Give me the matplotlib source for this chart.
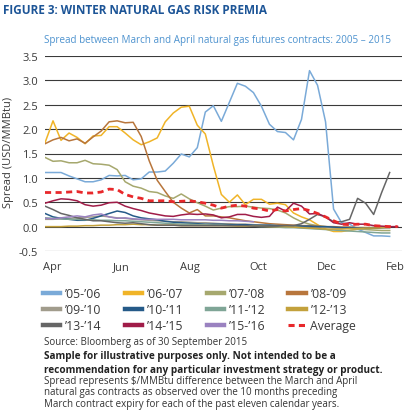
import numpy as np
import matplotlib
matplotlib.use("Agg")
import matplotlib.pyplot as plt
from matplotlib.lines import Line2D

plt.rcParams['font.family'] = ['Open Sans', 'DejaVu Sans']

# ---- data (weekly observations, starting early April) ----
labels = ["’05-’06", "’06-’07", "’07-’08", "’08-’09", "’09-’10", "’10-’11",
          "’11-’12", "’12-’13", "’13-’14", "’14-’15", "’15-’16"]
colors = ["#7aaad8", "#f0b428", "#a6a86e", "#b8763c", "#a19c8c", "#255a88",
          "#7fa596", "#c3a13c", "#666666", "#a01c48", "#9a82c0"]

s0506 = [1.11, 1.11, 1.11, 1.04, 0.98, 0.92, 0.92, 0.96, 1.05, 1.04, 1.05, 0.96, 0.98, 1.12, 1.12,
         1.14, 1.30, 1.49, 1.43, 1.62, 2.35, 2.48, 2.16, 2.55, 2.94, 2.88, 2.75, 2.47, 2.10, 1.95,
         1.93, 1.78, 2.20, 3.20, 2.90, 2.15, 0.36, 0.08, 0.05, -0.05, -0.12, -0.19, -0.19, -0.20]
s0607 = [1.72, 2.17, 1.77, 1.92, 1.83, 1.70, 1.86, 1.87, 2.05, 2.05, 1.92, 1.78, 1.68, 1.74, 1.82,
         2.15, 2.33, 2.45, 2.47, 2.08, 1.90, 1.25, 0.66, 0.50, 0.65, 0.45, 0.56, 0.56, 0.46, 0.48,
         0.45, 0.28, 0.20, 0.14, 0.04, -0.05, -0.10, -0.10, -0.08, -0.05, -0.05, -0.03, -0.02, 0.00]
s0708 = [1.42, 1.34, 1.35, 1.31, 1.31, 1.36, 1.29, 1.28, 1.26, 1.17, 0.92, 0.83, 0.79, 0.72, 0.70,
         0.63, 0.58, 0.67, 0.57, 0.49, 0.42, 0.34, 0.38, 0.41, 0.41, 0.42, 0.40, 0.38, 0.37, 0.34,
         0.28, 0.18, 0.10, 0.05, 0.02, 0.00, -0.02, -0.03, -0.04, -0.05, -0.06, -0.07, -0.08, -0.08]
s0809 = [1.70, 1.78, 1.83, 1.76, 1.80, 1.71, 1.84, 1.96, 2.15, 2.17, 2.13, 2.14, 1.85, 1.35, 0.95,
         0.72, 0.50, 0.38, 0.28, 0.35, 0.22, 0.22, 0.20, 0.18, 0.15, 0.12, 0.10, 0.08, 0.06, 0.05,
         0.04, 0.03, 0.02, 0.02, 0.01, 0.00, 0.00, -0.01, -0.01, -0.02, -0.02, -0.02, -0.01, 0.00]
s0910 = [0.15, 0.15, 0.16, 0.17, 0.18, 0.19, 0.20, 0.22, 0.20, 0.18, 0.17, 0.15, 0.14, 0.13, 0.12,
         0.11, 0.10, 0.10, 0.09, 0.08, 0.08, 0.07, 0.06, 0.06, 0.05, 0.05, 0.04, 0.03, 0.03, 0.02,
         0.02, 0.01, 0.00, 0.00, -0.01, -0.01, -0.02, -0.02, -0.03, -0.03, -0.03, -0.02, -0.02, -0.01]
s1011 = [0.27, 0.20, 0.17, 0.15, 0.13, 0.13, 0.17, 0.22, 0.27, 0.32, 0.29, 0.22, 0.18, 0.16, 0.14,
         0.11, 0.09, 0.08, 0.07, 0.06, 0.05, 0.05, 0.05, 0.04, 0.04, 0.04, 0.03, 0.03, 0.03, 0.02,
         0.02, 0.02, 0.01, 0.01, 0.00, 0.00, -0.01, -0.02, -0.02, -0.03, -0.03, -0.03, -0.02, -0.02]
s1112 = [0.18, 0.17, 0.16, 0.15, 0.15, 0.14, 0.14, 0.13, 0.13, 0.12, 0.12, 0.11, 0.10, 0.09, 0.08,
         0.07, 0.06, 0.05, 0.05, 0.04, 0.04, 0.03, 0.03, 0.02, 0.02, 0.01, 0.01, 0.00, 0.00, -0.01,
         -0.02, -0.02, -0.03, -0.04, -0.05, -0.06, -0.07, -0.08, -0.09, -0.10, -0.11, -0.12, -0.13, -0.13]
s1213 = [0.00, 0.00, 0.00, 0.01, 0.01, 0.02, 0.02, 0.03, 0.03, 0.04, 0.04, 0.05, 0.04, 0.04, 0.03,
         0.03, 0.03, 0.02, 0.02, 0.02, 0.02, 0.02, 0.02, 0.02, 0.01, 0.01, 0.01, 0.01, 0.00, 0.00,
         0.00, -0.01, -0.02, -0.03, -0.04, -0.05, -0.05, -0.05, -0.04, -0.04, -0.03, -0.03, -0.02, -0.02]
s1314 = [0.42, 0.35, 0.27, 0.23, 0.18, 0.15, 0.12, 0.12, 0.10, 0.08, 0.07, 0.08, 0.06, 0.04, 0.03,
         0.03, 0.03, 0.02, 0.02, 0.02, 0.02, 0.02, 0.02, 0.02, 0.02, 0.02, 0.01, 0.01, 0.01, 0.01,
         0.02, 0.02, 0.06, 0.15, 0.25, 0.20, 0.10, 0.10, 0.15, 0.58, 0.48, 0.25, 0.70, 1.11]
s1415 = [0.48, 0.53, 0.57, 0.56, 0.53, 0.45, 0.42, 0.44, 0.49, 0.50, 0.42, 0.37, 0.33, 0.28, 0.25,
         0.22, 0.21, 0.24, 0.26, 0.25, 0.26, 0.24, 0.18, 0.20, 0.25, 0.25, 0.21, 0.19, 0.21, 0.40,
         0.32, 0.48, 0.42, 0.26, 0.27, 0.20, 0.08, 0.05, 0.08, 0.05, 0.05, 0.02, 0.01, 0.00, 0.00]
s1516 = [0.17, 0.16, 0.18, 0.20, 0.22, 0.20, 0.24, 0.26, 0.20, 0.17, 0.18, 0.16, 0.15, 0.15, 0.15,
         0.15, 0.15, 0.14, 0.14, 0.14, 0.14, 0.13, 0.13, 0.12, 0.12, 0.11, 0.10]
average = [0.70, 0.70, 0.70, 0.71, 0.72, 0.69, 0.69, 0.71, 0.77, 0.76, 0.66, 0.61, 0.58, 0.53, 0.53,
           0.53, 0.51, 0.52, 0.53, 0.51, 0.48, 0.44, 0.38, 0.42, 0.44, 0.42, 0.38, 0.36, 0.32, 0.35,
           0.32, 0.35, 0.37, 0.33, 0.27, 0.20, 0.12, 0.05, 0.04, 0.05, 0.05, 0.02, 0.01, 0.00, 0.00]

series = [s0506, s0607, s0708, s0809, s0910, s1011, s1112, s1213, s1314, s1415, s1516]

month_labels = ["Apr", "Jun", "Aug", "Oct", "Dec", "Feb"]
first_tick_week = 0.92
weeks_per_month = 4.28

# ---- figure ----
fig = plt.figure(figsize=(4.08, 4.14), dpi=100)
ax = fig.add_axes([45 / 408, 1 - 252 / 414, 356.7 / 408, 195 / 414])

for vals, c in zip(series, colors):
    ax.plot(np.arange(len(vals)), vals, color=c, lw=1.1, solid_joinstyle='round')
ax.plot(np.arange(len(average)), average, color="#e8282b", lw=2.0, dashes=(2.2, 1.6))

ax.set_xlim(0, 44.5)
ax.set_ylim(-0.5, 3.5)
ax.set_yticks(np.arange(-0.5, 3.51, 0.5))
ax.set_yticklabels([f"{v:.1f}" for v in np.arange(-0.5, 3.51, 0.5)])
ax.set_xticks(first_tick_week + np.arange(len(month_labels)) * 2 * weeks_per_month)
ax.set_xticklabels(month_labels)
ax.grid(axis='y', color='#3a3a3a', lw=0.8)
ax.set_axisbelow(True)
for sp in ax.spines.values():
    sp.set_visible(False)
ax.tick_params(axis='both', length=0, labelsize=8, labelcolor='#3a3a3a')
ax.tick_params(axis='y', pad=5)
ax.tick_params(axis='x', pad=7)
ax.set_ylabel("Spread (USD/MMBtu)", fontsize=8, color='#3a3a3a')
ax.yaxis.set_label_coords(-0.088, 0.51)

# ---- titles ----
fig.text(3 / 408, 1 - 11 / 414, "FIGURE 3: WINTER NATURAL GAS RISK PREMIA", fontsize=8.5,
         fontweight='bold', color='#1d5597', va='center', ha='left')
fig.text(44 / 408, 1 - 40 / 414,
         "Spread between March and April natural gas futures contracts: 2005 – 2015",
         fontsize=7.1, color='#4e93cf', va='center', ha='left')

# ---- legend ----
handles = [Line2D([], [], color=c, lw=3.2) for c in colors]
handles.append(Line2D([], [], color="#e8282b", lw=2.2, dashes=(2.0, 1.4)))
names = labels + ["Average"]
order = [0, 4, 8, 1, 5, 9, 2, 6, 10, 3, 7, 11]
leg = fig.legend([handles[i] for i in order], [names[i] for i in order],
                 loc='upper left', bbox_to_anchor=(43 / 408, 1 - 288 / 414), ncol=4,
                 frameon=False, fontsize=8.8, handlelength=1.4, handletextpad=0.4,
                 columnspacing=1.9, labelspacing=0.24, borderpad=0, borderaxespad=0)
for t in leg.get_texts():
    t.set_color('#3a3a3a')

# ---- footnotes ----
notes = [
    ("Source: Bloomberg as of 30 September 2015", 'normal', 342.3),
    ("Sample for illustrative purposes only. Not intended to be a", 'bold', 356.7),
    ("recommendation for any particular investment strategy or product.", 'bold', 370.7),
    ("Spread represents \\$/MMBtu difference between the March and April", 'normal', 381.5),
    ("natural gas contracts as observed over the 10 months preceding", 'normal', 393.0),
    ("March contract expiry for each of the past eleven calendar years.", 'normal', 404.5),
]
for txt, w, y in notes:
    fig.text(44 / 408, 1 - y / 414, txt, fontsize=7.2 if w == 'bold' else 7.0,
             fontweight=w, color='#333333' if w == 'normal' else '#222222',
             va='center', ha='left')

fig.savefig("out.png", dpi=100)
